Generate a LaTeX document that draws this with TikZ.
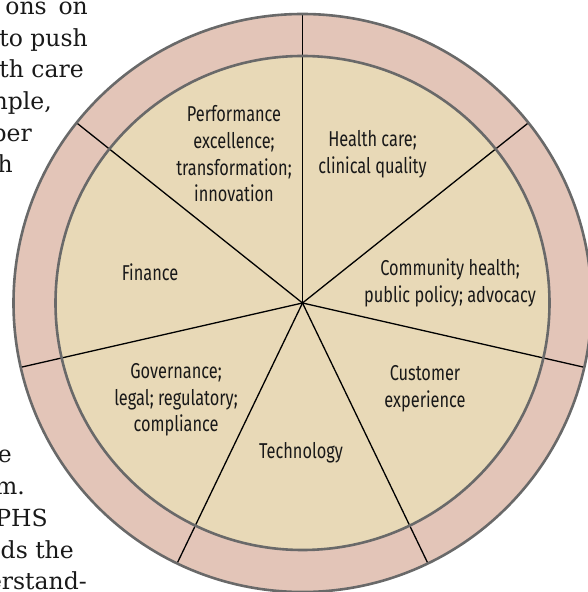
\documentclass[tikz,border=0pt]{standalone}
\usepackage{fontspec}
\usetikzlibrary{calc}
\setmainfont{DejaVu Serif}
\newfontfamily\labelfont[FakeStretch=0.76]{Fira Sans}
\definecolor{ringpink}{RGB}{227,197,184}
\definecolor{sectorbeige}{RGB}{232,217,183}
\definecolor{rimgray}{RGB}{105,105,105}
\definecolor{inkdark}{RGB}{25,25,25}
\begin{document}
\begin{tikzpicture}[x=1pt,y=1pt,
  bodytext/.style={anchor=base east, inner sep=0pt, text=inkdark,
    font=\fontsize{23.5}{31.7}\selectfont},
  sectorlabel/.style={align=center, inner sep=0pt, text=inkdark,
    font=\labelfont\fontsize{21.5}{26.7}\selectfont},
  rim/.style={draw=rimgray, line width=2.6pt},
  spoke/.style={draw=black, line width=1.3pt}
]
\useasboundingbox (0,0) rectangle (588,592);
\clip (0,0) rectangle (588,592);

% running text of the page, wrapping round the wheel
\node[bodytext] (t1) at (88,577) {ons\hspace{0.5em}on};
\node[bodytext] (t2) at (88,545) {to push};
\node[bodytext] (t3) at (84,514) {lth care};
\node[bodytext] (t4) at (52,482) {mple,};
\node[bodytext] (t5) at (32,450) {ber};
\node[bodytext] (t6) at (13,419) {h};
\node[bodytext] (t7) at (12,129) {e};
\node[bodytext] (t8) at (25,97) {m.};
\node[bodytext] (t9) at (48,65) {PHS};
\node[bodytext] (t10) at (74,34) {ds the};
\node[bodytext] (t11) at (87,2) {erstand-};

% the wheel: outer band and inner disc
\coordinate (c) at (302.5,289);
\fill[ringpink] (c) circle (289);
\fill[sectorbeige] (c) circle (247);

% seven equal sectors
\foreach \i in {0,...,6} {
  \coordinate (s\i) at ($(c)+({90-\i*360/7}:289)$);
  \draw[spoke] (c) -- (s\i);
}

\draw[rim] (c) circle (289);
\draw[rim] (c) circle (247);

% sector labels
\node[sectorlabel] (perf) at (234,438) {Performance\\excellence;\\transformation;\\innovation};
\node[sectorlabel] (health) at (372.5,437.5) {Health care;\\clinical quality};
\node[sectorlabel] (comm) at (450,309.3) {Community health;\\public policy; advocacy};
\node[sectorlabel] (cust) at (425,203) {Customer\\experience};
\node[sectorlabel] (tech) at (301,139) {Technology};
\node[sectorlabel] (gov) at (176,192) {Governance;\\legal; regulatory;\\compliance};
\node[sectorlabel] (fin) at (150,320) {Finance};
\end{tikzpicture}
\end{document}
